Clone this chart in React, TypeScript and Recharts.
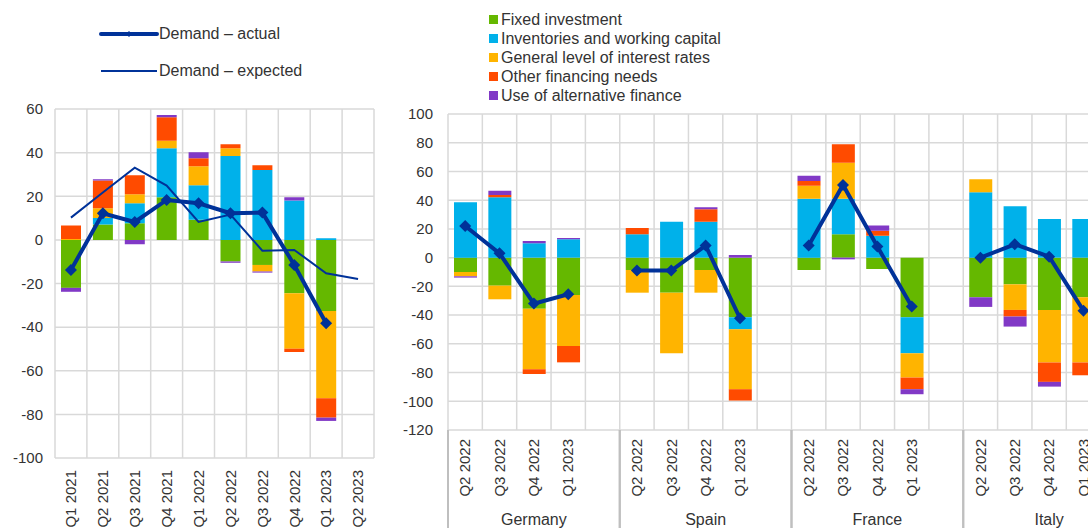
import { ComposedChart, Bar, Line, XAxis, YAxis, CartesianGrid } from "recharts";

// left panel: euro area
const quartersLeft = ["Q1 2021", "Q2 2021", "Q3 2021", "Q4 2021", "Q1 2022", "Q2 2022", "Q3 2022", "Q4 2022", "Q1 2023", "Q2 2023"];
const fixedLeft = [-22, 7, 7.6, 19.5, 9.2, -9.9, -11.5, -24.5, -32.6, null];
const inventoriesLeft = [0, 3, 9.2, 22.5, 15.8, 38.5, 32, 18, 0.8, null];
const interestLeft = [0.4, 4.5, 4.1, 3.5, 8.7, 3.5, -3, -25.4, -40, null];
const otherLeft = [6.2, 12.7, 8.7, 10.7, 3.7, 1.8, 2.2, -1.5, -8.9, null];
const altFinanceLeft = [-1.8, 0.6, -2, 1, 2.8, -0.6, -0.5, 1.5, -1.5, null];
const actualLeft = [-13.8, 12.2, 8.2, 18.3, 16.8, 12.2, 12.5, -11.5, -38.2, null];
const expectedLeft = [10.2, 21.7, 33.1, 24.9, 8.2, 11.6, -5, -4.6, -15.3, -17.9];
const ticksLeft = [-100, -80, -60, -40, -20, 0, 20, 40, 60];

// right panel: countries, Q2 2022 - Q1 2023
const countries = ["Germany", "Spain", "France", "Italy"];
const quartersRight = ["Q2 2022", "Q3 2022", "Q4 2022", "Q1 2023"];
const fixedRight = [-10, -19.5, -35.5, -26, -8.6, -24.4, -8.6, -41.5, -8.6, 16.2, -7.9, -41.5, -27.6, -18.6, -36.4, -27.6];
const inventoriesRight = [38.5, 42, 10, 12.8, 16.2, 25, 25, -8.4, 41, 24.8, 15.3, -25.1, 45.5, 35.7, 26.9, 26.9];
const interestRight = [-3, -9.5, -42.2, -35.5, -15.8, -42.2, -15.8, -41.7, 9.1, 25.1, 0, -16.9, 9, -17.8, -36.6, -45.4];
const otherRight = [0, 1.6, -3.3, -11.4, 4.4, 0, 8.6, -7.9, 3.3, 12.8, 3.5, -8.1, 0, -4.6, -13.5, -8.9];
const altFinanceRight = [-0.9, 3, 1.6, 0.9, 0, 0, 1.4, 1.9, 3.6, -1.2, 3.5, -3.5, -6.7, -7, -3.3, 0];
const actualRight = [22, 3, -32, -25.5, -9, -9, 8.4, -42.2, 8.4, 50.6, 7.7, -34.1, 0, 9.3, 0.7, -36.9];
const ticksRight = [-120, -100, -80, -60, -40, -20, 0, 20, 40, 60, 80, 100];

const GREEN = "#65B800";
const BLUE = "#00B1EA";
const YELLOW = "#FFB400";
const ORANGE = "#FF4B00";
const PURPLE = "#8139C6";
const LINE = "#003299";
const GRID = "#D9D9D9";
const TEXT = "#333333";
const FONT = "'Liberation Sans', Arial, sans-serif";

const legendItems = [
  { name: "Fixed investment", color: GREEN },
  { name: "Inventories and working capital", color: BLUE },
  { name: "General level of interest rates", color: YELLOW },
  { name: "Other financing needs", color: ORANGE },
  { name: "Use of alternative finance", color: PURPLE },
];

const leftData = quartersLeft.map((q, i) => ({
  quarter: q,
  fixed: fixedLeft[i],
  inventories: inventoriesLeft[i],
  interest: interestLeft[i],
  other: otherLeft[i],
  alt: altFinanceLeft[i],
  actual: actualLeft[i],
  expected: expectedLeft[i],
}));

type Row = { key: string; quarter: string; country: string; [k: string]: any };
const rightData: Row[] = [];
countries.forEach((c, ci) => {
  quartersRight.forEach((q, qi) => {
    const i = ci * 4 + qi;
    rightData.push({
      key: c + " " + q,
      quarter: q,
      country: c,
      fixed: fixedRight[i],
      inventories: inventoriesRight[i],
      interest: interestRight[i],
      other: otherRight[i],
      alt: altFinanceRight[i],
      actual: actualRight[i],
    });
  });
  rightData.push({ key: c + " gap", quarter: "", country: c, actual: null });
});

const RIGHT_W = 745;
const RIGHT_AXIS_W = 58;
const RIGHT_X_H = 98;
const rightBand = (RIGHT_W - RIGHT_AXIS_W) / rightData.length;

const boundaries = (n: number) => ({ offset }: any) => {
  const out: number[] = [];
  for (let i = 0; i <= n; i++) out.push(offset.left + (offset.width * i) / n);
  return out;
};

const Diamond = (props: any) => {
  const { cx, cy, index } = props;
  if (cx == null || cy == null || props.value == null) return <g key={index} />;
  const r = 6;
  return <path key={index} d={`M${cx},${cy - r}L${cx + r},${cy}L${cx},${cy + r}L${cx - r},${cy}Z`} fill={LINE} />;
};

const LeftTick = (props: any) => {
  const { x, y, payload } = props;
  return (
    <g transform={`translate(${x},${y + 12})`}>
      <text transform="rotate(-90)" textAnchor="end" dy="0.35em" fontSize={15} fill={TEXT} fontFamily={FONT}>
        {payload.value}
      </text>
    </g>
  );
};

const RightTick = (props: any) => {
  const { x, y, index } = props;
  const row = rightData[index];
  if (!row) return <g />;
  const first = index % 5 === 0;
  return (
    <g>
      {row.quarter && (
        <g transform={`translate(${x},${y + 9})`}>
          <text transform="rotate(-90)" textAnchor="end" dy="0.35em" fontSize={15} fill={TEXT} fontFamily={FONT}>
            {row.quarter}
          </text>
        </g>
      )}
      {first && (
        <>
          <line x1={x - rightBand / 2} x2={x - rightBand / 2} y1={y} y2={y + RIGHT_X_H} stroke="#BFBFBF" strokeWidth={2} />
          <line x1={x + rightBand * 4.5} x2={x + rightBand * 4.5} y1={y} y2={y + RIGHT_X_H} stroke="#BFBFBF" strokeWidth={2} />
          <text x={x + rightBand * 2} y={y + 95} textAnchor="middle" fontSize={16} fill={TEXT} fontFamily={FONT}>
            {row.country}
          </text>
        </>
      )}
    </g>
  );
};

const yTick = { fontSize: 15, fill: TEXT, fontFamily: FONT };

function StackBars({ size }: { size: number }) {
  return null;
}

export default function App() {
  const bars = (size: number) => [
    <Bar key="fixed" dataKey="fixed" stackId="s" fill={GREEN} barSize={size} isAnimationActive={false} />,
    <Bar key="inventories" dataKey="inventories" stackId="s" fill={BLUE} barSize={size} isAnimationActive={false} />,
    <Bar key="interest" dataKey="interest" stackId="s" fill={YELLOW} barSize={size} isAnimationActive={false} />,
    <Bar key="other" dataKey="other" stackId="s" fill={ORANGE} barSize={size} isAnimationActive={false} />,
    <Bar key="alt" dataKey="alt" stackId="s" fill={PURPLE} barSize={size} isAnimationActive={false} />,
  ];

  return (
    <div
      style={{
        position: "absolute",
        left: 0,
        top: 0,
        width: 1088,
        height: 528,
        overflow: "hidden",
        background: "#fff",
        fontFamily: FONT,
        color: TEXT,
      }}
    >
      {/* left legend */}
      <svg style={{ position: "absolute", left: 0, top: 0 }} width={170} height={90}>
        <line x1={101} x2={157} y1={34} y2={34} stroke={LINE} strokeWidth={4} strokeLinecap="round" />
        <path d="M129,31L132,34L129,37L126,34Z" fill={LINE} />
        <line x1={101} x2={157} y1={71} y2={71} stroke={LINE} strokeWidth={2} />
      </svg>
      <div style={{ position: "absolute", left: 159, top: 24, fontSize: 16, lineHeight: "20px" }}>Demand – actual</div>
      <div style={{ position: "absolute", left: 159, top: 61, fontSize: 16, lineHeight: "20px" }}>Demand – expected</div>

      {/* right legend */}
      <div style={{ position: "absolute", left: 489, top: 10 }}>
        {legendItems.map((it) => (
          <div key={it.name} style={{ display: "flex", alignItems: "center", height: 19, fontSize: 16, whiteSpace: "nowrap" }}>
            <span style={{ display: "inline-block", width: 9, height: 9, background: it.color, marginRight: 3 }} />
            {it.name}
          </div>
        ))}
      </div>

      <div style={{ position: "absolute", left: 0, top: 0 }}>
        <ComposedChart width={380} height={528} data={leftData} stackOffset="sign" margin={{ top: 109, right: 6, bottom: 0, left: 0 }}>
          <CartesianGrid stroke={GRID} strokeWidth={1.5} verticalCoordinatesGenerator={boundaries(leftData.length)} />
          <XAxis dataKey="quarter" interval={0} axisLine={false} tickLine={false} tickSize={0} tickMargin={0} height={70} tick={<LeftTick />} />
          <YAxis
            domain={[-100, 60]}
            ticks={ticksLeft}
            width={55}
            axisLine={false}
            tickLine={false}
            tickSize={0}
            tickMargin={12}
            tick={yTick}
            allowDataOverflow
          />
          {bars(20)}
          <Line dataKey="expected" stroke={LINE} strokeWidth={2} dot={false} isAnimationActive={false} />
          <Line dataKey="actual" stroke={LINE} strokeWidth={4} dot={<Diamond />} activeDot={false} isAnimationActive={false} />
        </ComposedChart>
      </div>

      <div style={{ position: "absolute", left: 390, top: 0 }}>
        <ComposedChart width={RIGHT_W} height={528} data={rightData} stackOffset="sign" margin={{ top: 114, right: 0, bottom: 0, left: 0 }}>
          <CartesianGrid stroke={GRID} strokeWidth={1.5} verticalCoordinatesGenerator={boundaries(rightData.length)} />
          <XAxis dataKey="key" interval={0} axisLine={false} tickLine={false} tickSize={0} tickMargin={0} height={RIGHT_X_H} tick={<RightTick />} />
          <YAxis
            domain={[-120, 100]}
            ticks={ticksRight}
            width={RIGHT_AXIS_W}
            axisLine={false}
            tickLine={false}
            tickSize={0}
            tickMargin={15}
            tick={yTick}
            allowDataOverflow
          />
          {bars(23)}
          <Line dataKey="actual" stroke={LINE} strokeWidth={4} dot={<Diamond />} activeDot={false} isAnimationActive={false} />
        </ComposedChart>
      </div>
    </div>
  );
}
